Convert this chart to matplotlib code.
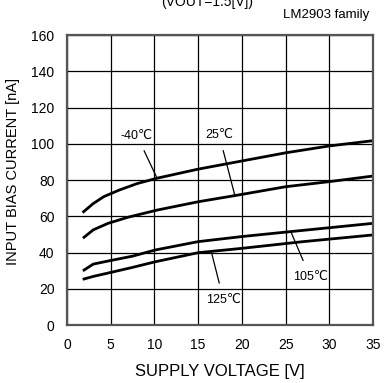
import matplotlib
matplotlib.use("Agg")
import matplotlib.pyplot as plt
import numpy as np

plt.rcParams['font.family'] = ['Liberation Sans', 'DejaVu Sans']

# data
v_m40 = [1.9, 3.0, 4.2, 6.0, 8.0, 10.3, 15, 20, 25, 30, 35]
i_m40 = [62.5, 67.0, 70.8, 74.5, 78.0, 81.0, 86.0, 90.5, 95.0, 98.8, 101.7]
v_25 = [1.95, 3.0, 4.7, 7.0, 10.3, 15, 19.2, 25, 30, 35]
i_25 = [48.4, 52.5, 56.1, 59.5, 63.4, 68.0, 71.4, 76.3, 79.1, 82.2]
v_105 = [1.95, 3.0, 4.9, 7.5, 10.1, 15, 20, 25.5, 35]
i_105 = [30.3, 33.6, 35.5, 38.0, 41.4, 46.0, 48.8, 51.5, 56.1]
v_125 = [1.95, 3.0, 4.9, 7.5, 10.1, 15, 20, 27, 35]
i_125 = [25.4, 26.8, 28.9, 31.8, 34.9, 39.9, 42.3, 46.0, 49.7]

fig = plt.figure(figsize=(3.85, 3.83), dpi=100)
ax = fig.add_axes([0.174, 0.1514, 0.795, 0.7572])

for v, i in [(v_m40, i_m40), (v_25, i_25), (v_105, i_105), (v_125, i_125)]:
    ax.plot(v, i, color='black', linewidth=2.0)

ax.set_xlim(0, 35)
ax.set_ylim(0, 160)
ax.set_xticks(np.arange(0, 36, 5))
ax.set_yticks(np.arange(0, 161, 20))
ax.grid(True, color='black', linewidth=0.9)
ax.tick_params(length=0, pad=9, labelsize=10)
for s in ax.spines.values():
    s.set_color('#555555')
    s.set_linewidth(1.6)
ax.set_xlabel("SUPPLY VOLTAGE [V]", fontsize=12, labelpad=9)
ax.set_ylabel("INPUT BIAS CURRENT [nA]", fontsize=10.5)
ax.yaxis.set_label_coords(-0.152, 0.53)

# curve labels with leader lines
lbl = dict(fontsize=9, ha='center', va='center')
ax.annotate("-40℃", xy=(10.3, 81.0), xytext=(8.0, 104.5), **lbl,
            arrowprops=dict(arrowstyle='-', color='black', lw=0.9, shrinkA=5, shrinkB=0))
ax.annotate("25℃", xy=(19.2, 71.4), xytext=(17.4, 104.8), **lbl,
            arrowprops=dict(arrowstyle='-', color='black', lw=0.9, shrinkA=5, shrinkB=0))
ax.annotate("105℃", xy=(25.6, 51.5), xytext=(27.8, 26.5), **lbl,
            arrowprops=dict(arrowstyle='-', color='black', lw=0.9, shrinkA=6, shrinkB=0))
ax.annotate("125℃", xy=(16.5, 40.5), xytext=(17.9, 13.8), **lbl,
            arrowprops=dict(arrowstyle='-', color='black', lw=0.9, shrinkA=6, shrinkB=0))

fig.text(0.538, 1 - 9 / 383, "(VOUT=1.5[V])", fontsize=10, ha='center', va='bottom')
fig.text(0.958, 1 - 15 / 383, "LM2903 family", fontsize=9.5, ha='right', va='center')

fig.savefig("out.png", dpi=100)
